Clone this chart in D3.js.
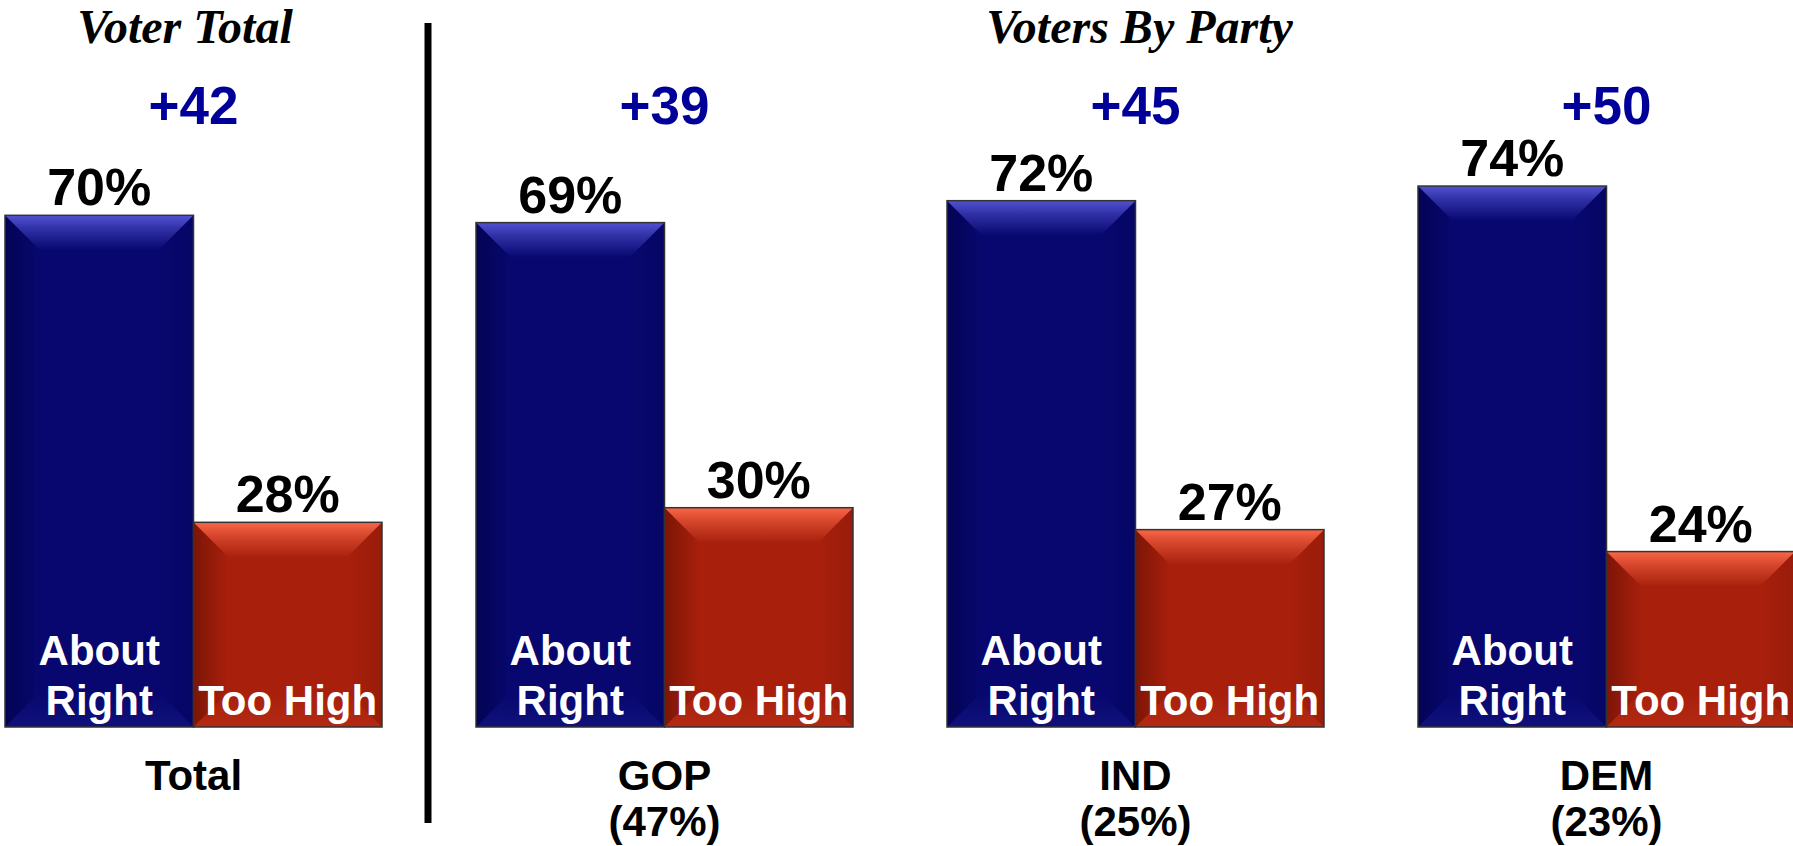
<!DOCTYPE html>
<html>
<head>
<meta charset="utf-8">
<script src="https://cdn.jsdelivr.net/npm/d3@7"></script>
<style>
html,body{margin:0;padding:0;background:#fff;overflow:hidden;}
svg{display:block;}
</style>
</head>
<body>
<svg id="chart" width="1793" height="846"></svg>
<script>
// ---- data ----
const categories = ["Total", "GOP", "IND", "DEM"];
const subLabels = ["", "(47%)", "(25%)", "(23%)"];
const series = ["About Right", "Too High"];
const aboutRight = [70, 69, 72, 74];
const tooHigh = [28, 30, 27, 24];
const margins = ["+42", "+39", "+45", "+50"];
const sectionTitles = ["Voter Total", "Voters By Party"];

const svg = d3.select("#chart");
const baseY = 727;

const x = d3.scaleBand().domain(categories).range([5, 1795]).paddingInner(0.1996).paddingOuter(0);
const xi = d3.scaleBand().domain(series).range([0, x.bandwidth()]).padding(0);
const y = d3.scaleLinear().domain([0, 100]).range([baseY, baseY - 731]);

const colors = {
  "About Right": {main: "#07076f", light: "#5656d8", dark: "#000040"},
  "Too High": {main: "#a8200c", light: "#ff6a4a", dark: "#5a0c00"}
};

const defs = svg.append("defs");
series.forEach((s, i) => {
  const c = colors[s];
  const gTop = defs.append("linearGradient").attr("id", "top" + i).attr("x1", 0).attr("y1", 0).attr("x2", 0).attr("y2", 1);
  gTop.append("stop").attr("offset", 0).attr("stop-color", c.light).attr("stop-opacity", 0.95);
  gTop.append("stop").attr("offset", 0.35).attr("stop-color", c.light).attr("stop-opacity", 0.55);
  gTop.append("stop").attr("offset", 1).attr("stop-color", c.light).attr("stop-opacity", 0);
  const gL = defs.append("linearGradient").attr("id", "left" + i).attr("x1", 0).attr("y1", 0).attr("x2", 1).attr("y2", 0);
  gL.append("stop").attr("offset", 0).attr("stop-color", c.dark).attr("stop-opacity", 0.55);
  gL.append("stop").attr("offset", 1).attr("stop-color", c.dark).attr("stop-opacity", 0);
  const gR = defs.append("linearGradient").attr("id", "right" + i).attr("x1", 1).attr("y1", 0).attr("x2", 0).attr("y2", 0);
  gR.append("stop").attr("offset", 0).attr("stop-color", c.dark).attr("stop-opacity", 0.2);
  gR.append("stop").attr("offset", 1).attr("stop-color", c.dark).attr("stop-opacity", 0);
  const gB = defs.append("linearGradient").attr("id", "bot" + i).attr("x1", 0).attr("y1", 1).attr("x2", 0).attr("y2", 0);
  gB.append("stop").attr("offset", 0).attr("stop-color", c.light).attr("stop-opacity", 0.12);
  gB.append("stop").attr("offset", 1).attr("stop-color", c.light).attr("stop-opacity", 0);
});

const sans = "'Liberation Sans', Arial, Helvetica, sans-serif";
const serif = "'Liberation Serif', 'Times New Roman', serif";

// section titles
svg.append("text").attr("x", 185).attr("y", 43).attr("text-anchor", "middle")
  .attr("font-family", serif).attr("font-style", "italic").attr("font-weight", "bold")
  .attr("font-size", 48).attr("fill", "#000").text(sectionTitles[0]);
svg.append("text").attr("x", (x("GOP") + x("DEM") + x.bandwidth()) / 2 + 4).attr("y", 43).attr("text-anchor", "middle")
  .attr("font-family", serif).attr("font-style", "italic").attr("font-weight", "bold")
  .attr("font-size", 48).attr("fill", "#000").text(sectionTitles[1]);

// divider
const divX = (x("Total") + x.bandwidth() + x("GOP")) / 2 - 1;
svg.append("line").attr("x1", divX).attr("x2", divX).attr("y1", 23).attr("y2", 823)
  .attr("stroke", "#000").attr("stroke-width", 7);

const d = 35;
categories.forEach((cat, ci) => {
  const g = svg.append("g").attr("transform", `translate(${x(cat)},0)`);
  const vals = [aboutRight[ci], tooHigh[ci]];
  series.forEach((s, si) => {
    const bx = xi(s), bw = xi.bandwidth();
    const by = y(vals[si]), bh = baseY - by;
    const c = colors[s];
    g.append("rect").attr("x", bx).attr("y", by).attr("width", bw).attr("height", bh).attr("fill", c.main);
    g.append("polygon").attr("points", [[bx, by], [bx + d, by + d], [bx + d, by + bh - d], [bx, by + bh]].join(" ")).attr("fill", `url(#left${si})`);
    g.append("polygon").attr("points", [[bx + bw, by], [bx + bw - d, by + d], [bx + bw - d, by + bh - d], [bx + bw, by + bh]].join(" ")).attr("fill", `url(#right${si})`);
    g.append("polygon").attr("points", [[bx, by + bh], [bx + d, by + bh - d], [bx + bw - d, by + bh - d], [bx + bw, by + bh]].join(" ")).attr("fill", `url(#bot${si})`);
    g.append("polygon").attr("points", [[bx, by], [bx + bw, by], [bx + bw - d, by + d], [bx + d, by + d]].join(" ")).attr("fill", `url(#top${si})`);
    g.append("rect").attr("x", bx).attr("y", by).attr("width", bw).attr("height", bh)
      .attr("fill", "none").attr("stroke", "#333").attr("stroke-width", 1.5);
    // value label
    g.append("text").attr("x", bx + bw / 2).attr("y", by - 10).attr("text-anchor", "middle")
      .attr("font-family", sans).attr("font-weight", "bold").attr("font-size", 52).attr("fill", "#000")
      .text(vals[si] + "%");
    // in-bar series label
    if (si === 0) {
      const words = s.split(" ");
      g.append("text").attr("x", bx + bw / 2).attr("y", 665).attr("text-anchor", "middle")
        .attr("font-family", sans).attr("font-weight", "bold").attr("font-size", 42).attr("fill", "#fff").text(words[0]);
      g.append("text").attr("x", bx + bw / 2).attr("y", 715).attr("text-anchor", "middle")
        .attr("font-family", sans).attr("font-weight", "bold").attr("font-size", 42).attr("fill", "#fff").text(words[1]);
    } else {
      g.append("text").attr("x", bx + bw / 2).attr("y", 715).attr("text-anchor", "middle")
        .attr("font-family", sans).attr("font-weight", "bold").attr("font-size", 42).attr("fill", "#fff").text(s);
    }
  });
  const cx = x.bandwidth() / 2;
  g.append("text").attr("x", cx).attr("y", 124).attr("text-anchor", "middle")
    .attr("font-family", sans).attr("font-weight", "bold").attr("font-size", 53).attr("fill", "#000099")
    .text(margins[ci]);
  g.append("text").attr("x", cx).attr("y", 790).attr("text-anchor", "middle")
    .attr("font-family", sans).attr("font-weight", "bold").attr("font-size", 42).attr("fill", "#000")
    .text(cat);
  if (subLabels[ci]) {
    g.append("text").attr("x", cx).attr("y", 836).attr("text-anchor", "middle")
      .attr("font-family", sans).attr("font-weight", "bold").attr("font-size", 42).attr("fill", "#000")
      .text(subLabels[ci]);
  }
});
</script>
</body>
</html>
